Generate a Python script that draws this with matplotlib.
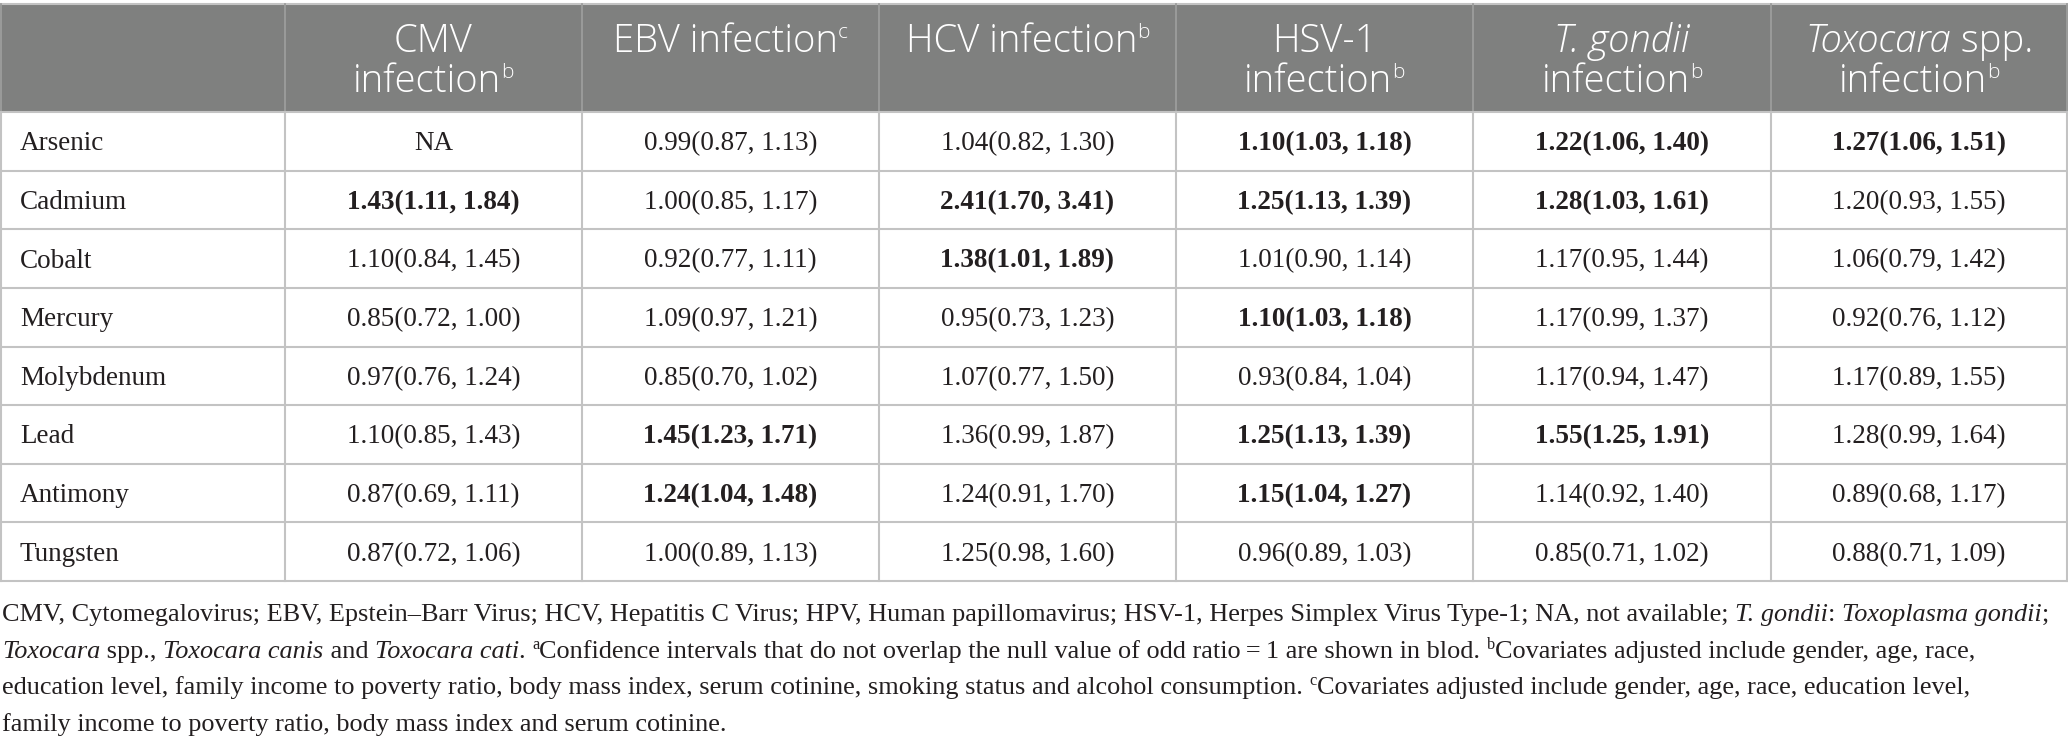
import numpy as np
import matplotlib.pyplot as plt
from matplotlib.patches import Rectangle

# table data
metals = ['Arsenic', 'Cadmium', 'Cobalt', 'Mercury', 'Molybdenum', 'Lead', 'Antimony', 'Tungsten']
odds = np.array([
    [np.nan, 0.99, 1.04, 1.10, 1.22, 1.27],
    [1.43, 1.00, 2.41, 1.25, 1.28, 1.20],
    [1.10, 0.92, 1.38, 1.01, 1.17, 1.06],
    [0.85, 1.09, 0.95, 1.10, 1.17, 0.92],
    [0.97, 0.85, 1.07, 0.93, 1.17, 1.17],
    [1.10, 1.45, 1.36, 1.25, 1.55, 1.28],
    [0.87, 1.24, 1.24, 1.15, 1.14, 0.89],
    [0.87, 1.00, 1.25, 0.96, 0.85, 0.88],
])
ci_low = np.array([
    [np.nan, 0.87, 0.82, 1.03, 1.06, 1.06],
    [1.11, 0.85, 1.70, 1.13, 1.03, 0.93],
    [0.84, 0.77, 1.01, 0.90, 0.95, 0.79],
    [0.72, 0.97, 0.73, 1.03, 0.99, 0.76],
    [0.76, 0.70, 0.77, 0.84, 0.94, 0.89],
    [0.85, 1.23, 0.99, 1.13, 1.25, 0.99],
    [0.69, 1.04, 0.91, 1.04, 0.92, 0.68],
    [0.72, 0.89, 0.98, 0.89, 0.71, 0.71],
])
ci_high = np.array([
    [np.nan, 1.13, 1.30, 1.18, 1.40, 1.51],
    [1.84, 1.17, 3.41, 1.39, 1.61, 1.55],
    [1.45, 1.11, 1.89, 1.14, 1.44, 1.42],
    [1.00, 1.21, 1.23, 1.18, 1.37, 1.12],
    [1.24, 1.02, 1.50, 1.04, 1.47, 1.55],
    [1.43, 1.71, 1.87, 1.39, 1.91, 1.64],
    [1.11, 1.48, 1.70, 1.27, 1.40, 1.17],
    [1.06, 1.13, 1.60, 1.03, 1.02, 1.09],
])

# column headers: list of lines, each line a list of (text, kind)
headers = [
    [[('CMV', 'n')], [('infection', 'n'), ('b', 's')]],
    [[('EBV infection', 'n'), ('c', 's')]],
    [[('HCV infection', 'n'), ('b', 's')]],
    [[('HSV-1', 'n')], [('infection', 'n'), ('b', 's')]],
    [[('T. gondii', 'i')], [('infection', 'n'), ('b', 's')]],
    [[('Toxocara', 'i'), (' spp.', 'n')], [('infection', 'n'), ('b', 's')]],
]

footnote = [
    [('CMV, Cytomegalovirus; EBV, Epstein\u2013Barr Virus; HCV, Hepatitis C Virus; HPV, Human papillomavirus; '
      'HSV-1, Herpes Simplex Virus Type-1; NA, not available; ', 'n'),
     ('T. gondii', 'i'), (': ', 'n'), ('Toxoplasma gondii', 'i'), (';', 'n')],
    [('Toxocara', 'i'), (' spp., ', 'n'), ('Toxocara canis', 'i'), (' and ', 'n'), ('Toxocara cati', 'i'),
     ('. ', 'n'), ('a', 's'),
     ('Confidence intervals that do not overlap the null value of odd ratio\u2009=\u20091 are shown in blod. ', 'n'),
     ('b', 's'), ('Covariates adjusted include gender, age, race,', 'n')],
    [('education level, family income to poverty ratio, body mass index, serum cotinine, smoking status '
      'and alcohol consumption. ', 'n'), ('c', 's'),
     ('Covariates adjusted include gender, age, race, education level,', 'n')],
    [('family income to poverty ratio, body mass index and serum cotinine.', 'n')],
]

W, H = 2068, 746
fig = plt.figure(figsize=(W / 100, H / 100), dpi=100)
ax = fig.add_axes([0, 0, 1, 1])
ax.set_xlim(0, W)
ax.set_ylim(H, 0)
ax.axis('off')
renderer = fig.canvas.get_renderer()

SERIF = ['Liberation Serif', 'DejaVu Serif']
SANS = ['Open Sans', 'DejaVu Sans']
TXT = '#231f20'
HEAD_BG = '#7f807f'
GRID = '#c3c3c3'

col_edges = [1, 285, 582, 879, 1176, 1473, 1771, 2067]
head_top, head_bot = 4, 112
row_h = (581 - head_bot) / len(metals)


def style(kind, fs, family, color, weight='normal', sup_size=0.62):
    kw = dict(family=family, size=fs, color=color, va='baseline', ha='left', weight=weight)
    if kind == 'i':
        kw['style'] = 'italic'
    elif kind == 'b':
        kw['weight'] = 'bold'
    elif kind == 's':
        kw['size'] = fs * sup_size
    return kw


def seg_width(txt, kw):
    t = ax.text(0, 0, '|' + txt + '|', **kw)
    w1 = t.get_window_extent(renderer).width
    t.set_text('||')
    w2 = t.get_window_extent(renderer).width
    t.remove()
    return w1 - w2


def draw_runs(x, y, runs, fs, family, color, ha='left', sup_raise=10, sup_size=0.62, weight='normal'):
    kws = [style(k, fs, family, color, weight, sup_size) for _, k in runs]
    widths = [seg_width(txt, kw) for (txt, _), kw in zip(runs, kws)]
    if ha == 'center':
        x = x - sum(widths) / 2
    for (txt, k), w, kw in zip(runs, widths, kws):
        yy = y - sup_raise if k == 's' else y
        ax.text(x, yy, txt, **kw)
        x += w


# header background and lines
ax.add_patch(Rectangle((0, head_top), W, head_bot - head_top, facecolor=HEAD_BG, edgecolor='none'))
ax.plot([0, W], [head_top, head_top], color=GRID, lw=1.5)
for x in col_edges:
    ax.plot([x, x], [head_top, head_bot], color='#9c9d9c', lw=1.3)

HFS = 27.5
for j, lines in enumerate(headers):
    cx = (col_edges[j + 2] + col_edges[j + 1]) / 2
    for li, runs in enumerate(lines):
        draw_runs(cx, 52 + li * 40, runs, HFS, SANS, 'white', ha='center',
                  sup_raise=14, sup_size=0.55, weight='light')

# body grid
for i in range(len(metals) + 1):
    y = head_bot + i * row_h
    ax.plot([0, W], [y, y], color=GRID, lw=1.5)
for x in col_edges:
    ax.plot([x, x], [head_bot, head_bot + len(metals) * row_h], color=GRID, lw=1.5)

BFS = 19.5
for i, m in enumerate(metals):
    yb = head_bot + (i + 0.5) * row_h + 9
    ax.text(20, yb, m, family=SERIF, size=BFS, color=TXT, va='baseline', ha='left')
    for j in range(odds.shape[1]):
        cx = (col_edges[j + 2] + col_edges[j + 1]) / 2
        if np.isnan(odds[i, j]):
            label, bold = 'NA', False
        else:
            label = f'{odds[i, j]:.2f}({ci_low[i, j]:.2f}, {ci_high[i, j]:.2f})'
            bold = ci_low[i, j] > 1 or ci_high[i, j] < 1
        ax.text(cx, yb, label, family=SERIF, size=BFS, color=TXT, va='baseline', ha='center',
                weight='bold' if bold else 'normal')

# footnote
FFS = 18.9
for li, runs in enumerate(footnote):
    draw_runs(2, 621 + li * 36.7, runs, FFS, SERIF, TXT, sup_raise=9)

fig.savefig('out.png', dpi=100)
